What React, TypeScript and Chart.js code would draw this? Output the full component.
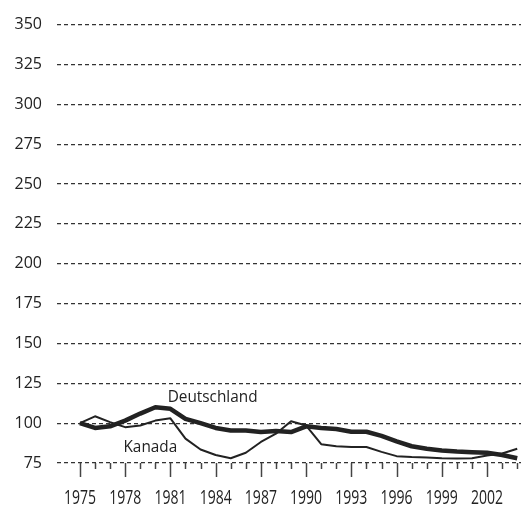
import React, { useEffect, useRef } from "react";
import { Chart, registerables } from "chart.js";

Chart.register(...registerables);

const years = [
  1975, 1976, 1977, 1978, 1979, 1980, 1981, 1982, 1983, 1984,
  1985, 1986, 1987, 1988, 1989, 1990, 1991, 1992, 1993, 1994,
  1995, 1996, 1997, 1998, 1999, 2000, 2001, 2002, 2003, 2004,
];
const deutschland = [
  100, 97, 98, 101.6, 106, 110, 109, 102.7, 100, 97,
  95.4, 95.4, 94.4, 95, 94.4, 98, 97, 96.3, 94.6, 94.6,
  92, 88.6, 85.5, 83.9, 82.9, 82.2, 81.8, 81.4, 80, 78,
];
const kanada = [
  100, 104.3, 100.6, 97.5, 98.5, 101.6, 103, 90.3, 83.5, 80,
  78, 81.4, 88.2, 93.4, 101.2, 98.5, 86.8, 85.5, 85.1, 85,
  82, 79.3, 78.7, 78.5, 78, 77.8, 78, 79.7, 81, 83.9,
];
const yTicks = [75, 100, 125, 150, 175, 200, 225, 250, 275, 300, 325, 350];
const labeledYears = [1975, 1978, 1981, 1984, 1987, 1990, 1993, 1996, 1999, 2002];
const seriesLabels = [
  { text: "Deutschland", year: 1983.8, value: 113.0 },
  { text: "Kanada", year: 1979.67, value: 82.0 },
];

const FONT = "'Open Sans', 'Noto Sans', sans-serif";
const INK = "#222";

const extrasPlugin = {
  id: "extras",
  afterDraw(chart: any) {
    const ctx = chart.ctx;
    const xs = chart.scales.x;
    const ys = chart.scales.y;
    const base = chart.chartArea.bottom;
    ctx.save();
    ctx.strokeStyle = "#444";
    ctx.lineWidth = 1.5;
    for (const yr of years) {
      const px = Math.round(xs.getPixelForValue(yr)) + 0.5;
      const major = (yr - 1975) % 3 === 0;
      ctx.beginPath();
      ctx.moveTo(px, base);
      ctx.lineTo(px, base + (major ? 14 : 6));
      ctx.stroke();
    }
    ctx.fillStyle = INK;
    ctx.textAlign = "center";
    ctx.textBaseline = "alphabetic";
    ctx.font = `20px ${FONT}`;
    for (const yr of labeledYears) {
      ctx.save();
      ctx.translate(xs.getPixelForValue(yr), base + 41);
      ctx.scale(0.7, 1);
      ctx.fillText(String(yr), 0, 0);
      ctx.restore();
    }
    ctx.font = `16.5px ${FONT}`;
    for (const l of seriesLabels) {
      ctx.save();
      ctx.translate(xs.getPixelForValue(l.year), ys.getPixelForValue(l.value));
      ctx.scale(0.93, 1);
      ctx.fillText(l.text, 0, 0);
      ctx.restore();
    }
    ctx.restore();
  },
};

export default function App() {
  const ref = useRef<HTMLCanvasElement>(null);
  useEffect(() => {
    if (!ref.current) return;
    const chart = new Chart(ref.current, {
      type: "line",
      data: {
        datasets: [
          {
            label: "Kanada",
            data: years.map((y, i) => ({ x: y, y: kanada[i] })),
            borderColor: INK,
            borderWidth: 2,
            pointRadius: 0,
            tension: 0,
            borderJoinStyle: "round",
          },
          {
            label: "Deutschland",
            data: years.map((y, i) => ({ x: y, y: deutschland[i] })),
            borderColor: INK,
            borderWidth: 4.5,
            pointRadius: 0,
            tension: 0,
            borderJoinStyle: "round",
          },
        ],
      },
      options: {
        animation: false,
        responsive: false,
        devicePixelRatio: 1,
        layout: { padding: { top: 19, right: 0, left: 0, bottom: 0 } },
        plugins: { legend: { display: false }, tooltip: { enabled: false } },
        scales: {
          x: {
            type: "linear",
            min: 1973.48,
            max: 2004.25,
            afterBuildTicks: (s: any) => {
              s.ticks = years.map((v) => ({ value: v }));
            },
            afterFit: (s: any) => {
              s.height = 46;
            },
            grid: { display: false, drawTicks: false },
            border: { display: false },
            ticks: { display: false },
          },
          y: {
            min: 75,
            max: 350,
            afterBuildTicks: (s: any) => {
              s.ticks = yTicks.map((v) => ({ value: v }));
            },
            afterFit: (s: any) => {
              s.width = 57;
            },
            grid: { color: "#333", lineWidth: 1.2, drawTicks: false },
            border: { display: false, dash: [4, 3] },
            ticks: {
              padding: 15,
              color: INK,
              font: { family: FONT, size: 16 },
            },
          },
        },
      },
      plugins: [extrasPlugin],
    } as any);
    return () => chart.destroy();
  }, []);
  return (
    <div style={{ position: "fixed", left: 0, top: 0, width: 521, height: 509, background: "#fff" }}>
      <canvas ref={ref} width={521} height={509} />
    </div>
  );
}
